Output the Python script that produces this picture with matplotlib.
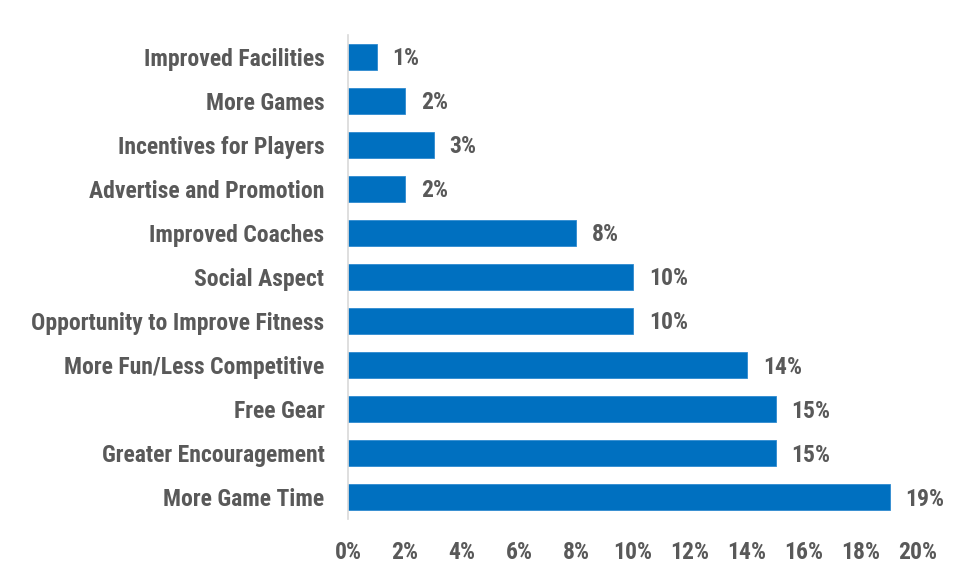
import matplotlib
matplotlib.use("Agg")
import matplotlib.pyplot as plt
from matplotlib.ticker import FuncFormatter

categories = ["Improved Facilities", "More Games", "Incentives for Players",
              "Advertise and Promotion", "Improved Coaches", "Social Aspect",
              "Opportunity to Improve Fitness", "More Fun/Less Competitive",
              "Free Gear", "Greater Encouragement", "More Game Time"]
values = [1, 2, 3, 2, 8, 10, 10, 14, 15, 15, 19]
xticks = [0, 2, 4, 6, 8, 10, 12, 14, 16, 18, 20]

plt.rcParams['font.family'] = ["Roboto Condensed", "DejaVu Sans"]

txt = "#595959"
fs = 17
fig = plt.figure(figsize=(9.54, 5.79), dpi=100)
ax = fig.add_axes([0.3648, 0.1036, 0.5975, 0.836])
y = list(range(len(categories)))
ax.barh(y, values, height=0.59, color="#0070C0", edgecolor="#2E8AD0", linewidth=0.6)
ax.set_ylim(len(categories) - 0.5, -0.5)
ax.set_xlim(0, 20)
ax.set_yticks(y)
ax.set_yticklabels(categories, fontsize=fs, fontweight="bold", color=txt)
ax.set_xticks(xticks)
ax.xaxis.set_major_formatter(FuncFormatter(lambda v, p: f"{v:.0f}%"))
for lab in ax.get_xticklabels():
    lab.set_fontsize(fs); lab.set_fontweight("bold"); lab.set_color(txt)
ax.tick_params(axis="y", length=0, pad=17)
ax.tick_params(axis="x", length=0, pad=16)
for s in ["top", "right", "bottom"]:
    ax.spines[s].set_visible(False)
ax.spines["left"].set_color("#D9D9D9")
ax.spines["left"].set_linewidth(1.2)
for yi, v in zip(y, values):
    ax.annotate(f"{v}%", (v, yi), xytext=(16, -2), textcoords="offset pixels",
                ha="left", va="center", fontsize=fs, fontweight="bold", color=txt)
fig.savefig("out.png", dpi=100)
